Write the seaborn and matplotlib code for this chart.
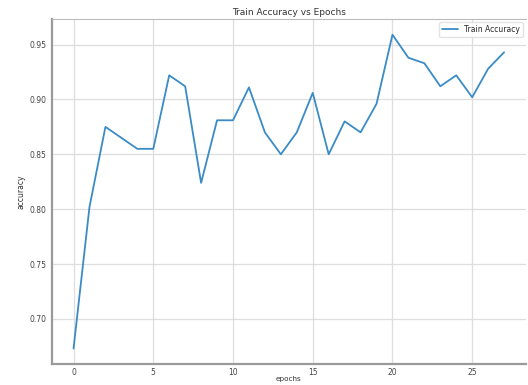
import matplotlib
matplotlib.use("Agg")
import matplotlib.pyplot as plt
import seaborn as sns
import pandas as pd

epochs = list(range(28))
train_accuracy = [0.673, 0.802, 0.875, 0.865, 0.855, 0.855, 0.922, 0.912,
                  0.824, 0.881, 0.881, 0.911, 0.870, 0.850, 0.870, 0.906,
                  0.850, 0.880, 0.870, 0.896, 0.959, 0.938, 0.933, 0.912,
                  0.922, 0.902, 0.928, 0.943]

df = pd.DataFrame({"epochs": epochs, "accuracy": train_accuracy})

sns.set_style("whitegrid", {
    "grid.color": "#dedede",
    "axes.edgecolor": "#9a9a9a",
})
plt.rcParams["font.family"] = ["DejaVu Sans"]

fig = plt.figure(figsize=(5.28, 3.85), dpi=100)
ax = fig.add_axes([0.0985, 0.054, 0.897, 0.8966])

sns.lineplot(data=df, x="epochs", y="accuracy", ax=ax, color="#3a8bc6",
             linewidth=1.3, label="Train Accuracy")

ax.set_title("Train Accuracy vs Epochs", fontsize=6.5, pad=3, color="#333333")
ax.set_xlabel("epochs", fontsize=5.2, labelpad=-1, color="#333333")
ax.set_ylabel("accuracy", fontsize=5.5, labelpad=3, color="#333333")
ax.tick_params(axis="both", labelsize=5.5, colors="#444444", length=2)
ax.tick_params(axis="x", pad=1)
ax.tick_params(axis="y", pad=2)
ax.set_xticks([0, 5, 10, 15, 20, 25])
ax.grid(True, linewidth=0.9)
for side in ["left", "bottom"]:
    ax.spines[side].set_linewidth(1.6)
ax.spines["top"].set_linewidth(0.8)
ax.spines["top"].set_color("#bbbbbb")
ax.spines["right"].set_visible(False)

leg = ax.legend(loc="upper right", fontsize=5.5, frameon=True, borderaxespad=0.4)
leg.get_frame().set_edgecolor("#dddddd")

fig.savefig("out.png", dpi=100)
